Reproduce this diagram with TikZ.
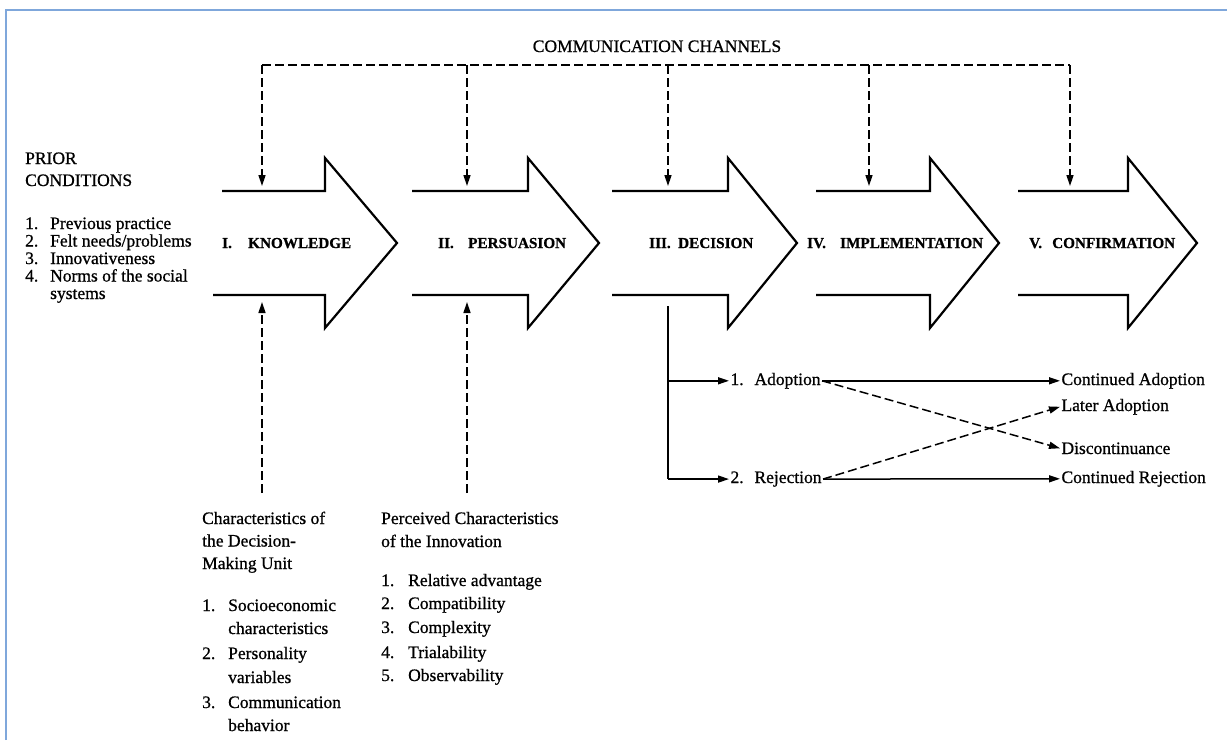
\documentclass[tikz,border=0pt]{standalone}
\usepackage{fontspec}
\setmainfont{Liberation Serif}[FakeBold=0.8]
\usetikzlibrary{arrows.meta}
\definecolor{frameblue}{HTML}{7FA7DB}
\begin{document}
\begin{tikzpicture}[x=1pt,y=-1pt,
  txt/.style={font=\fontsize{17.5}{21}\selectfont, inner sep=0pt, anchor=base west},
  outtxt/.style={txt, outer sep=1.5pt},
  stagetxt/.style={font=\bfseries\fontsize{15.2}{18}\selectfont, inner sep=0pt, anchor=base west},
  stageshape/.style={line width=2.2pt, line join=miter},
  plainline/.style={line width=1.5pt},
  conn/.style={line width=1.5pt, -{Triangle[length=11pt,width=7pt]}},
  dashline/.style={line width=1.5pt, dash pattern=on 9pt off 4pt},
  dconn/.style={conn, dash pattern=on 9pt off 4pt},
]
\useasboundingbox (0,0) rectangle (1227,740);
\draw[frameblue, line width=1.5pt] (6,740) -- (6,10) -- (1227,10);

% stage arrows
\draw[stageshape] (222,191) -- (325,191) -- (325,158) -- (397,243) -- (325,328) -- (325,295) -- (213,295);
\draw[stageshape] (412,191) -- (528,191) -- (528,158) -- (599,243) -- (528,328) -- (528,295) -- (412,295);
\draw[stageshape] (612,191) -- (728,191) -- (728,158) -- (797,243) -- (728,328) -- (728,295) -- (612,295);
\draw[stageshape] (816,191) -- (930,191) -- (930,158) -- (999,243) -- (930,328) -- (930,295) -- (816,295);
\draw[stageshape] (1018,191) -- (1128,191) -- (1128,158) -- (1197,243) -- (1128,328) -- (1128,295) -- (1018,295);

\node[stagetxt] (s1) at (222,248) {\makebox[26pt][l]{I.}KNOWLEDGE};
\node[stagetxt] (s2) at (438,248) {\makebox[30pt][l]{II.}PERSUASION};
\node[stagetxt] (s3) at (649,248) {\makebox[29pt][l]{III.}DECISION};
\node[stagetxt] (s4) at (807,248) {\makebox[33pt][l]{IV.}IMPLEMENTATION};
\node[stagetxt] (s5) at (1029,248) {\makebox[23pt][l]{V.}CONFIRMATION};

% communication channels
\node[txt, anchor=base] (chan) at (657,52) {COMMUNICATION CHANNELS};
\coordinate (c1) at (262,65);
\coordinate (c2) at (467,65);
\coordinate (c3) at (668,65);
\coordinate (c4) at (869,65);
\coordinate (c5) at (1070,65);
\coordinate (t1) at (262,186);
\coordinate (t2) at (467,186);
\coordinate (t3) at (668,186);
\coordinate (t4) at (869,186);
\coordinate (t5) at (1070,186);
\draw[dashline] (c1) -- (c5);
\foreach \i in {1,...,5} { \draw[dconn] (c\i) -- (t\i); }

% prior conditions
\node[txt] (pr1) at (25,164) {PRIOR};
\node[txt] (pr2) at (25,186) {CONDITIONS};
\node[txt] (pc1) at (25,229) {\makebox[25pt][l]{1.}Previous practice};
\node[txt] (pc2) at (25,246.5) {\makebox[25pt][l]{2.}Felt needs/problems};
\node[txt] (pc3) at (25,264) {\makebox[25pt][l]{3.}Innovativeness};
\node[txt] (pc4) at (25,281.5) {\makebox[25pt][l]{4.}Norms of the social};
\node[txt] (pc4b) at (50,299) {systems};

% characteristics of the decision-making unit
\node[txt] (du1) at (202,524) {Characteristics of};
\node[txt] (du2) at (202,546.5) {the Decision-};
\node[txt] (du3) at (202,569) {Making Unit};
\node[txt] (dl1) at (202,611) {\makebox[26pt][l]{1.}Socioeconomic};
\node[txt] (dl1b) at (228,634) {characteristics};
\node[txt] (dl2) at (202,659) {\makebox[26pt][l]{2.}Personality};
\node[txt] (dl2b) at (228,683) {variables};
\node[txt] (dl3) at (202,708) {\makebox[26pt][l]{3.}Communication};
\node[txt] (dl3b) at (228,731) {behavior};

% perceived characteristics
\node[txt] (pi1) at (381,524) {Perceived Characteristics};
\node[txt] (pi2) at (381,547) {of the Innovation};
\node[txt] (pl1) at (381,586) {\makebox[27pt][l]{1.}Relative advantage};
\node[txt] (pl2) at (381,609) {\makebox[27pt][l]{2.}Compatibility};
\node[txt] (pl3) at (381,633) {\makebox[27pt][l]{3.}Complexity};
\node[txt] (pl4) at (381,658) {\makebox[27pt][l]{4.}Trialability};
\node[txt] (pl5) at (381,681) {\makebox[27pt][l]{5.}Observability};

\coordinate (u1s) at (262,493);
\coordinate (u1e) at (262,302);
\coordinate (u2s) at (467,493);
\coordinate (u2e) at (467,302);
\draw[dconn] (u1s) -- (u1e);
\draw[dconn] (u2s) -- (u2e);

% decision outcomes
\node[outtxt] (adopt) at (729,385) {\makebox[24pt][l]{1.}Adoption};
\node[outtxt] (rej) at (729,483) {\makebox[24pt][l]{2.}Rejection};
\node[outtxt] (contA) at (1060,385) {Continued Adoption};
\node[outtxt] (later) at (1060,411) {Later Adoption};
\node[outtxt] (disc) at (1060,454) {Discontinuance};
\node[outtxt] (contR) at (1060,483) {Continued Rejection};

\coordinate (dtop) at (668,306);
\draw[plainline] (dtop) -- (dtop |- rej.west);
\draw[conn] (dtop |- adopt.west) -- (adopt.west);
\draw[conn] (dtop |- rej.west) -- (rej.west);
\draw[conn] (adopt.east) -- (contA.west);
\draw[dconn] (adopt.east) -- (disc.west);
\draw[dconn] (rej.east) -- (later.west);
\draw[conn] (rej.east) -- (contR.west);
\end{tikzpicture}
\end{document}
